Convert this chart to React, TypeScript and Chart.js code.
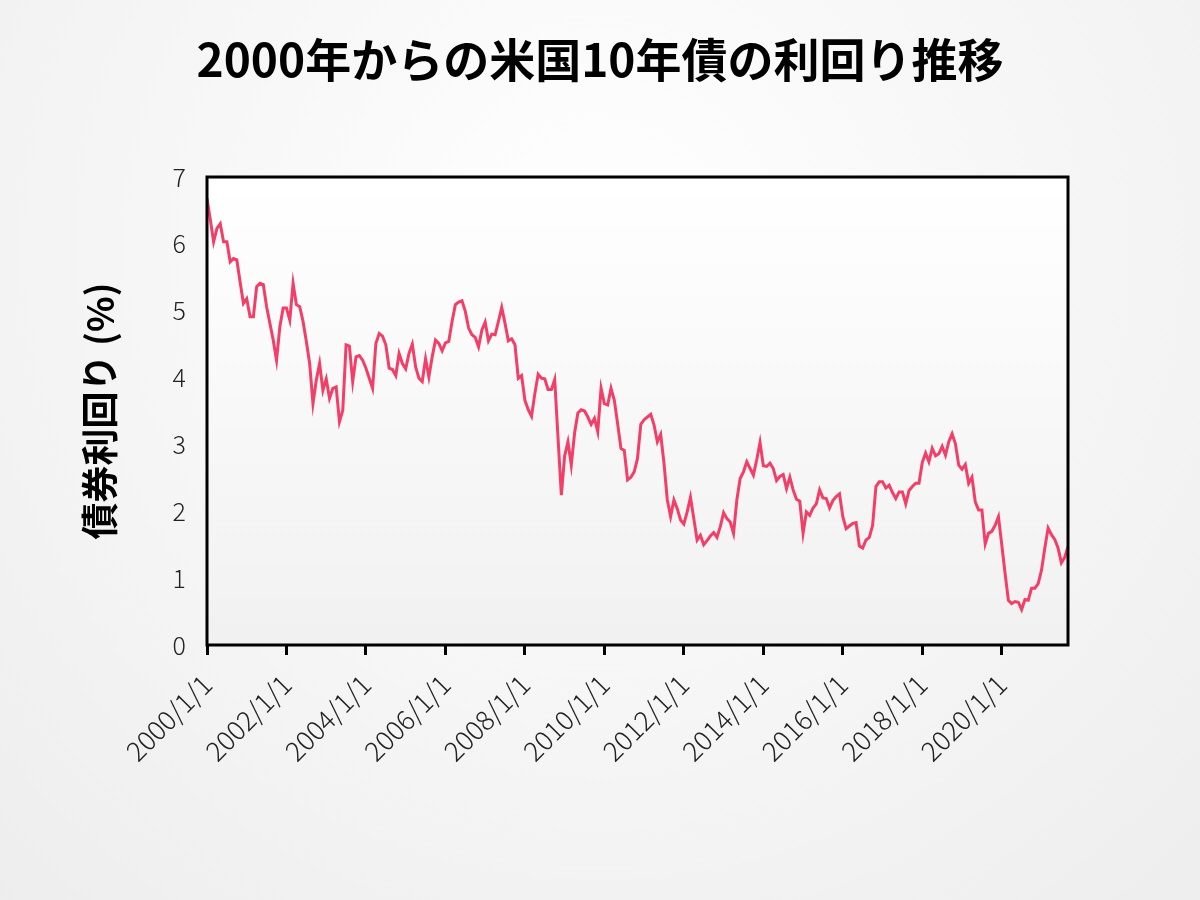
import { useEffect, useRef } from 'react';
import { Chart, registerables } from 'chart.js';

Chart.register(...registerables);

// monthly yields starting 2000/1, one value per month through 2021/9
const START_YEAR = 2000;
const yields: number[] = [
  6.68, 6.36, 6.03, 6.23, 6.30, 6.03, 6.03, 5.73, 5.78, 5.76, 5.43, 5.11,
  5.18, 4.91, 4.91, 5.36, 5.41, 5.39, 5.06, 4.81, 4.56, 4.26, 4.76, 5.04,
  5.04, 4.86, 5.41, 5.09, 5.06, 4.84, 4.54, 4.21, 3.61, 3.96, 4.21, 3.81,
  3.98, 3.69, 3.84, 3.86, 3.34, 3.51, 4.49, 4.47, 3.94, 4.31, 4.33, 4.26,
  4.14, 3.99, 3.84, 4.51, 4.66, 4.62, 4.49, 4.14, 4.12, 4.03, 4.36, 4.21,
  4.13, 4.36, 4.50, 4.16, 3.99, 3.94, 4.28, 4.01, 4.31, 4.56, 4.51, 4.40,
  4.52, 4.54, 4.84, 5.09, 5.13, 5.15, 4.99, 4.74, 4.64, 4.60, 4.46, 4.71,
  4.83, 4.55, 4.65, 4.64, 4.84, 5.05, 4.81, 4.55, 4.58, 4.49, 3.99, 4.03,
  3.66, 3.52, 3.42, 3.76, 4.05, 3.99, 3.98, 3.82, 3.82, 3.97, 3.10, 2.24,
  2.83, 3.04, 2.69, 3.17, 3.47, 3.52, 3.50, 3.41, 3.30, 3.39, 3.19, 3.84,
  3.61, 3.59, 3.84, 3.66, 3.31, 2.94, 2.91, 2.47, 2.51, 2.59, 2.79, 3.30,
  3.37, 3.41, 3.45, 3.29, 3.04, 3.15, 2.72, 2.17, 1.92, 2.17, 2.04, 1.87,
  1.81, 1.99, 2.21, 1.89, 1.57, 1.64, 1.50, 1.56, 1.63, 1.68, 1.61, 1.77,
  1.98, 1.89, 1.84, 1.67, 2.17, 2.49, 2.59, 2.74, 2.64, 2.54, 2.77, 3.03,
  2.68, 2.67, 2.72, 2.64, 2.46, 2.52, 2.55, 2.34, 2.51, 2.32, 2.18, 2.15,
  1.67, 1.99, 1.94, 2.05, 2.11, 2.32, 2.20, 2.19, 2.05, 2.16, 2.22, 2.26,
  1.92, 1.74, 1.78, 1.82, 1.83, 1.48, 1.45, 1.57, 1.61, 1.79, 2.37, 2.44,
  2.44, 2.35, 2.39, 2.28, 2.19, 2.29, 2.29, 2.11, 2.31, 2.37, 2.42, 2.42,
  2.73, 2.87, 2.74, 2.94, 2.83, 2.86, 2.97, 2.84, 3.04, 3.16, 3.01, 2.69,
  2.63, 2.70, 2.42, 2.51, 2.14, 2.02, 2.02, 1.51, 1.67, 1.70, 1.79, 1.92,
  1.50, 1.07, 0.67, 0.62, 0.65, 0.64, 0.53, 0.68, 0.67, 0.85, 0.85, 0.92,
  1.12, 1.45, 1.75, 1.65, 1.58, 1.45, 1.23, 1.31, 1.47,
];

const tickLabels = [
  '2000/1/1', '2002/1/1', '2004/1/1', '2006/1/1', '2008/1/1', '2010/1/1',
  '2012/1/1', '2014/1/1', '2016/1/1', '2018/1/1', '2020/1/1',
];

const TITLE = '2000年からの米国10年債の利回り推移';
const FONT = '"Noto Sans CJK JP", sans-serif';

const dateOf = (i: number) => `${START_YEAR + Math.floor(i / 12)}/${(i % 12) + 1}/1`;

const bgPlugin = {
  id: 'bg',
  beforeDraw(chart: any) {
    const { ctx, width, height, chartArea } = chart;
    ctx.save();
    const g = ctx.createRadialGradient(600, 250, 0, 600, 250, 900);
    g.addColorStop(0, '#ffffff');
    g.addColorStop(1, '#ededed');
    ctx.fillStyle = g;
    ctx.fillRect(0, 0, width, height);
    const a = ctx.createLinearGradient(0, chartArea.top, 0, chartArea.bottom);
    a.addColorStop(0, '#ffffff');
    a.addColorStop(1, '#f1f1f1');
    ctx.fillStyle = a;
    ctx.fillRect(chartArea.left, chartArea.top, chartArea.right - chartArea.left, chartArea.bottom - chartArea.top);
    // title, centred on the page
    ctx.fillStyle = '#000';
    ctx.font = `bold 46px ${FONT}`;
    ctx.textAlign = 'center';
    ctx.textBaseline = 'middle';
    ctx.fillText(TITLE, 600, 60);
    ctx.restore();
  },
  afterDatasetsDraw(chart: any) {
    const { ctx, chartArea } = chart;
    ctx.save();
    ctx.strokeStyle = '#000';
    ctx.lineWidth = 3;
    ctx.strokeRect(chartArea.left, chartArea.top, chartArea.right - chartArea.left, chartArea.bottom - chartArea.top);
    ctx.restore();
  },
};

export default function App() {
  const canvasRef = useRef<HTMLCanvasElement>(null);

  useEffect(() => {
    if (!canvasRef.current) return;
    const chart = new Chart(canvasRef.current, {
      type: 'line',
      data: {
        datasets: [
          {
            label: '利回り',
            data: yields.map((v, i) => ({ x: i, y: v, date: dateOf(i) })),
            borderColor: 'rgb(243, 62, 104)',
            borderWidth: 3,
            pointRadius: 0,
            tension: 0,
          },
        ],
      },
      options: {
        responsive: false,
        animation: false,
        layout: { padding: { left: 0, right: 132, top: 177, bottom: 0 } },
        plugins: {
          legend: { display: false },
          tooltip: { enabled: false },
          title: { display: false },
        },
        scales: {
          x: {
            type: 'linear',
            min: 0,
            max: yields.length - 1,
            afterFit(scale: any) {
              scale.height = 255;
            },
            afterBuildTicks(scale: any) {
              scale.ticks = tickLabels.map((_, k) => ({ value: k * 24 }));
            },
            grid: {
              drawOnChartArea: false,
              drawTicks: true,
              tickLength: 10,
              color: '#000',
              lineWidth: 3,
            },
            border: { display: false },
            ticks: {
              minRotation: 45,
              maxRotation: 45,
              autoSkip: false,
              padding: 13,
              color: '#222',
              font: { family: FONT, size: 27, weight: 300 },
              callback: (_v: any, index: number) => tickLabels[index],
            },
          },
          y: {
            min: 0,
            max: 7,
            afterFit(scale: any) {
              scale.width = 207;
            },
            grid: { display: false },
            border: { display: false },
            ticks: {
              stepSize: 1,
              padding: 13,
              color: '#222',
              font: { family: FONT, size: 25, weight: 300 },
            },
            title: {
              display: true,
              text: '債券利回り (%)',
              color: '#000',
              font: { family: FONT, size: 37, weight: 'bold' },
              padding: { top: 78, bottom: 0 },
            },
          },
        },
      },
      plugins: [bgPlugin],
    });
    return () => chart.destroy();
  }, []);

  return (
    <div style={{ position: 'fixed', left: 0, top: 0, width: 1200, height: 900 }}>
      <canvas ref={canvasRef} width={1200} height={900} style={{ width: 1200, height: 900 }} />
    </div>
  );
}
